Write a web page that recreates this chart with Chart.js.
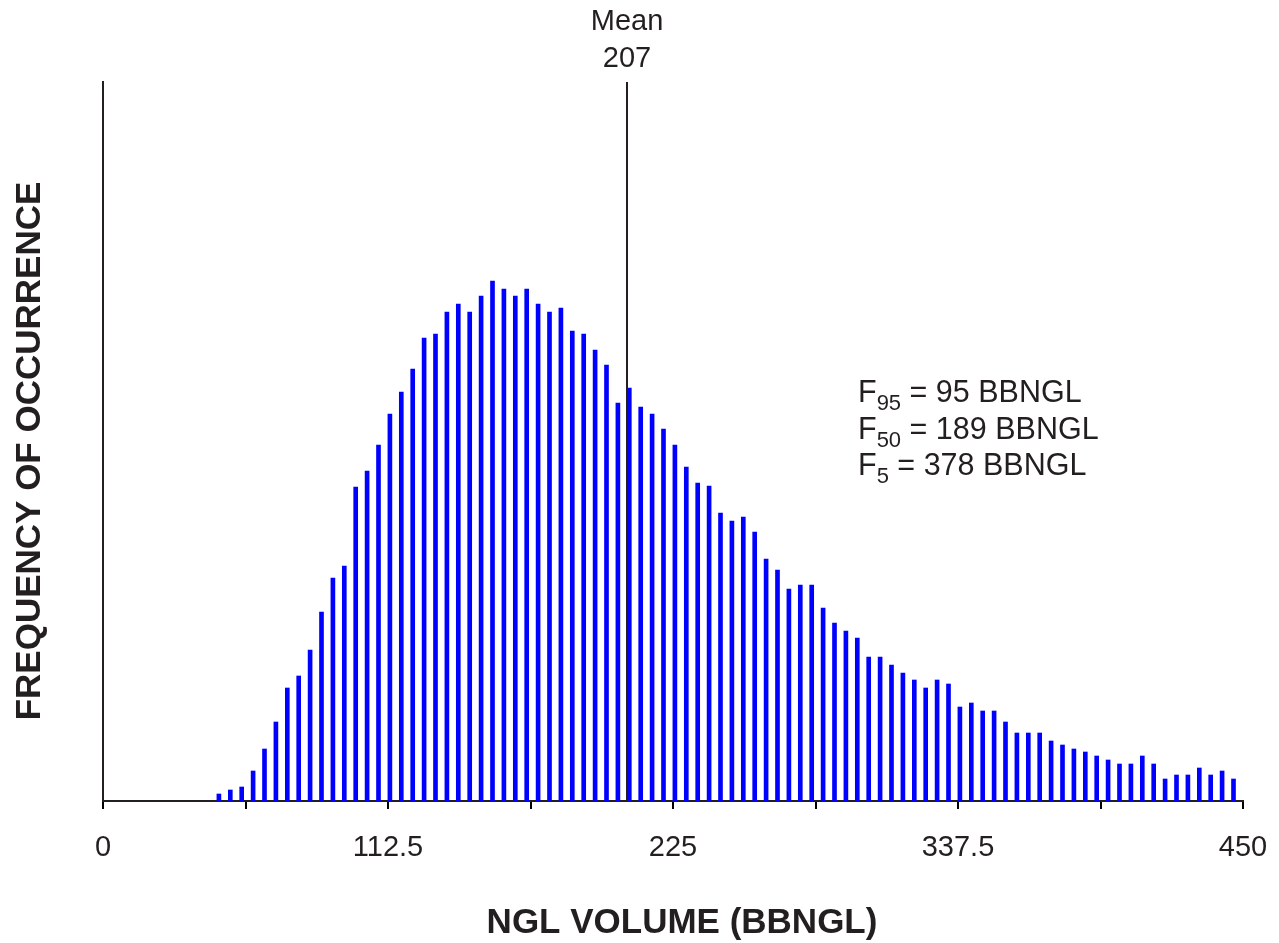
<!DOCTYPE html>
<html>
<head>
<meta charset="utf-8">
<script src="https://cdn.jsdelivr.net/npm/chart.js@4.4.1/dist/chart.umd.min.js"></script>
<style>
html,body{margin:0;padding:0;background:#ffffff;}
#wrap{width:1279px;height:943px;position:relative;}
</style>
</head>
<body>
<div id="wrap"><canvas id="c" width="1279" height="943"></canvas></div>
<script>
// ---- data ----
const binCenters = [45.75, 50.25, 54.75, 59.25, 63.75, 68.25, 72.75, 77.25, 81.75, 86.25,
  90.75, 95.25, 99.75, 104.25, 108.75, 113.25, 117.75, 122.25, 126.75, 131.25,
  135.75, 140.25, 144.75, 149.25, 153.75, 158.25, 162.75, 167.25, 171.75, 176.25,
  180.75, 185.25, 189.75, 194.25, 198.75, 203.25, 207.75, 212.25, 216.75, 221.25,
  225.75, 230.25, 234.75, 239.25, 243.75, 248.25, 252.75, 257.25, 261.75, 266.25,
  270.75, 275.25, 279.75, 284.25, 288.75, 293.25, 297.75, 302.25, 306.75, 311.25,
  315.75, 320.25, 324.75, 329.25, 333.75, 338.25, 342.75, 347.25, 351.75, 356.25,
  360.75, 365.25, 369.75, 374.25, 378.75, 383.25, 387.75, 392.25, 396.75, 401.25,
  405.75, 410.25, 414.75, 419.25, 423.75, 428.25, 432.75, 437.25, 441.75, 446.25];
const frequency = [7, 11, 14, 30, 52, 79, 113, 125, 151, 189,
  223, 235, 314, 330, 356, 387, 409, 432, 463, 467,
  489, 497, 489, 505, 520, 512, 505, 512, 497, 489,
  493, 470, 467, 451, 436, 398, 413, 394, 387, 372,
  356, 334, 318, 315, 288, 280, 284, 269, 242, 231,
  212, 216, 216, 193, 178, 170, 163, 144, 144, 136,
  128, 121, 113, 121, 117, 94, 98, 90, 90, 79,
  68, 68, 68, 60, 56, 52, 49, 45, 41, 37,
  37, 45, 37, 22, 26, 26, 33, 26, 30, 22];
const xTickValues = [0, 56.25, 112.5, 168.75, 225, 281.25, 337.5, 393.75, 450];
const xTickLabels = ['0', '', '112.5', '', '225', '', '337.5', '', '450'];
const yMax = 719;
const meanValue = 207;
const meanLabels = ['Mean', '207'];
const fractileSubs = ['95', '50', '5'];
const fractileTexts = [' = 95 BBNGL', ' = 189 BBNGL', ' = 378 BBNGL'];
const xTitle = 'NGL VOLUME (BBNGL)';
const yTitle = 'FREQUENCY OF OCCURRENCE';

const TEXT = '#231f20';
const FONT = '"Liberation Sans", Arial, Helvetica, sans-serif';

const overlay = {
  id: 'overlay',
  afterDraw(chart) {
    const ctx = chart.ctx;
    const xs = chart.scales.x, ys = chart.scales.y;
    ctx.save();
    // mean line
    const mx = Math.round(xs.getPixelForValue(meanValue));
    ctx.strokeStyle = TEXT;
    ctx.lineWidth = 2;
    ctx.beginPath();
    ctx.moveTo(mx, ys.top);
    ctx.lineTo(mx, ys.bottom);
    ctx.stroke();
    ctx.fillStyle = TEXT;
    ctx.textAlign = 'center';
    ctx.textBaseline = 'alphabetic';
    ctx.font = '29px ' + FONT;
    ctx.fillText(meanLabels[0], mx, 30);
    ctx.fillText(meanLabels[1], mx, 67);
    // fractile annotation
    ctx.textAlign = 'left';
    const x0 = 858;
    const bases = [402, 439, 475];
    for (let i = 0; i < fractileSubs.length; i++) {
      let x = x0;
      ctx.font = '30.5px ' + FONT;
      ctx.fillText('F', x, bases[i]);
      x += ctx.measureText('F').width;
      ctx.font = '22px ' + FONT;
      ctx.fillText(fractileSubs[i], x, bases[i] + 8);
      x += ctx.measureText(fractileSubs[i]).width;
      ctx.font = '30.5px ' + FONT;
      ctx.fillText(fractileTexts[i], x, bases[i]);
    }
    // axis titles
    ctx.font = 'bold 35px ' + FONT;
    ctx.textAlign = 'center';
    ctx.fillText(xTitle, 682, 933);
    ctx.translate(40, 451);
    ctx.rotate(-Math.PI / 2);
    ctx.fillText(yTitle, 0, 0);
    ctx.restore();
  }
};

new Chart(document.getElementById('c').getContext('2d'), {
  type: 'bar',
  data: {
    datasets: [{
      data: binCenters.map((x, i) => ({ x: x, y: frequency[i] })),
      backgroundColor: '#0000ff',
      borderWidth: 0,
      barThickness: 4
    }]
  },
  options: {
    responsive: false,
    animation: false,
    devicePixelRatio: 1,
    layout: { padding: { left: 103, right: 36, top: 82, bottom: 0 } },
    plugins: { legend: { display: false }, tooltip: { enabled: false } },
    scales: {
      x: {
        type: 'linear', min: 0, max: 450, offset: false,
        afterBuildTicks: s => { s.ticks = xTickValues.map(v => ({ value: v })); },
        ticks: {
          autoSkip: false, maxRotation: 0, color: TEXT, padding: 22,
          font: { family: FONT, size: 29 },
          callback: (v, i) => xTickLabels[i]
        },
        grid: { display: true, offset: false, drawOnChartArea: false, drawTicks: true, tickLength: 8, color: '#000', lineWidth: 2 },
        border: { display: true, color: '#231f20', width: 2 },
        afterFit: s => { s.height = 142; s.paddingLeft = 0; s.paddingRight = 0; }
      },
      y: {
        min: 0, max: yMax,
        ticks: { display: false },
        grid: { display: false },
        border: { display: true, color: '#231f20', width: 2 },
        afterFit: s => { s.width = 0; }
      }
    }
  },
  plugins: [overlay]
});
</script>
</body>
</html>
